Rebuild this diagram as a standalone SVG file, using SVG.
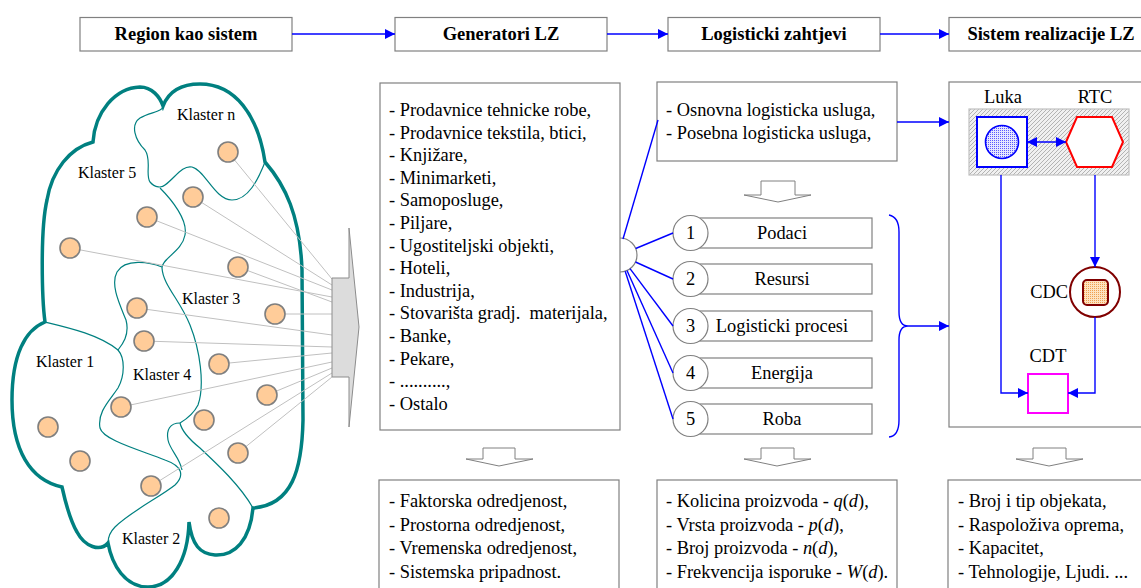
<svg xmlns="http://www.w3.org/2000/svg" width="1141" height="588" viewBox="0 0 1141 588">
  <style>
    .box { fill: #fff; stroke: #808080; stroke-width: 1.2; }
    .hdr { font-family: "Liberation Serif", "Times New Roman", serif; font-weight: bold; font-size: 18.5px; fill: #000; text-anchor: middle; }
    .txt { font-family: "Liberation Serif", "Times New Roman", serif; font-size: 18.4px; fill: #000; white-space: pre; }
    .lbl { font-family: "Liberation Serif", "Times New Roman", serif; font-size: 16px; fill: #000; }
    .mid { text-anchor: middle; }
    .end { text-anchor: end; }
    .flow { fill: none; stroke: #0000ff; stroke-width: 1.4; }
    .outline { fill: #fff; stroke: #008080; stroke-width: 3.5; stroke-linejoin: miter; }
    .border { fill: none; stroke: #008080; stroke-width: 1.2; }
    .ray { stroke: #c0c0c0; stroke-width: 1; }
    .dot { fill: #ffcc99; stroke: #7f7f7f; stroke-width: 1.6; }
    .hollow { fill: #fff; stroke: #808080; stroke-width: 1; }
    .num { fill: #fff; stroke: #808080; stroke-width: 1.2; }
    .it { font-style: italic; }
  </style>
  <defs>
    <marker id="arr" viewBox="0 0 10 10" refX="10" refY="5" markerWidth="10" markerHeight="10" markerUnits="userSpaceOnUse" orient="auto">
      <path d="M0,0 L10,5 L0,10 Z" fill="#0000ff"/>
    </marker>
    <marker id="arrS" viewBox="0 0 10 10" refX="0" refY="5" markerWidth="10" markerHeight="10" markerUnits="userSpaceOnUse" orient="auto">
      <path d="M10,0 L0,5 L10,10 Z" fill="#0000ff"/>
    </marker>
    <pattern id="hatch" width="4" height="4" patternUnits="userSpaceOnUse">
      <rect width="4" height="4" fill="#f0f0f0"/>
      <path d="M-1,1 L1,-1 M0,4 L4,0 M3,5 L5,3" stroke="#9a9a9a" stroke-width="0.7"/>
    </pattern>
    <pattern id="blueDots" width="2" height="2" patternUnits="userSpaceOnUse">
      <rect width="2" height="2" fill="#e6e6ff"/>
      <rect width="1" height="1" fill="#5a5aff"/>
    </pattern>
    <pattern id="orangeDots" width="2" height="2" patternUnits="userSpaceOnUse">
      <rect width="2" height="2" fill="#fde3c0"/>
      <rect width="1" height="1" fill="#f0a050"/>
    </pattern>
  </defs>

  <!-- header row -->
  <g id="hdr-region">
    <rect class="box" x="80" y="17.5" width="212" height="33.5"/>
    <text class="hdr" x="186" y="40">Region kao sistem</text>
  </g>
  <g id="hdr-generatori">
    <rect class="box" x="395" y="17.5" width="212" height="33.5"/>
    <text class="hdr" x="501" y="40">Generatori LZ</text>
  </g>
  <g id="hdr-zahtjevi">
    <rect class="box" x="668" y="17.5" width="212" height="33.5"/>
    <text class="hdr" x="774" y="40">Logisticki zahtjevi</text>
  </g>
  <g id="hdr-sistem">
    <rect class="box" x="949" y="17.5" width="212" height="33.5"/>
    <text class="hdr" x="1051" y="40">Sistem realizacije LZ</text>
  </g>

  <!-- region cloud with clusters -->
  <g id="region">
    <path class="outline" d="M93,142 C95,112 115,88 140,87 C152,87 160,97 163,106
      C170,88 185,84 200,84 C235,84 258,115 265,162
      C285,185 300,215 302,270 L303,420 C302,470 292,505 253,508
      C250,540 235,556 215,555 C200,554 192,545 189,522
      C188,560 172,587 148,587 C125,587 112,565 108,543
      C100,552 85,547 77,532 C70,520 66,505 62,487
      C30,480 12,450 12,400 C12,355 25,330 45,322
      C42,300 40,230 47,200 C52,170 70,148 93,142 Z"/>
    <path class="border" d="M163,106 C163,112 150,112 140,118 C130,125 135,140 145,150 C152,160 145,175 150,182 C155,188 162,188 165,185 C175,178 182,165 192,167 C205,170 215,200 232,200 C248,200 258,180 265,162"/>
    <path class="border" d="M160,188 C172,200 188,220 185,235 C182,252 162,258 162,268 C163,285 180,300 190,325 C200,350 205,385 198,405 C193,415 185,420 180,423"/>
    <path class="border" d="M180,423 C170,423 166,430 168,440 C170,450 180,458 182,470"/>
    <path class="border" d="M180,423 C182,432 190,440 200,448 C215,462 240,485 253,508"/>
    <path class="border" d="M162,267 C150,262 125,258 117,272 C110,285 120,305 126,320 C130,335 122,345 118,350 C125,358 125,375 118,388 C110,400 97,412 100,428 C103,440 140,450 165,460 C182,466 185,475 175,485 C160,497 130,512 115,527 C110,532 108,538 108,543"/>
    <path class="border" d="M45,322 C70,328 100,335 118,350"/>

    <text class="lbl" x="177" y="120">Klaster n</text>
    <text class="lbl" x="78" y="178">Klaster 5</text>
    <text class="lbl" x="182" y="304">Klaster 3</text>
    <text class="lbl" x="36" y="367">Klaster 1</text>
    <text class="lbl" x="133" y="380">Klaster 4</text>
    <text class="lbl" x="122" y="544">Klaster 2</text>
  </g>

  <!-- rays from generators to the collector -->
  <g id="rays">
    <line class="ray" x1="228" y1="152" x2="332" y2="279"/>
    <line class="ray" x1="193" y1="197" x2="332" y2="285"/>
    <line class="ray" x1="147" y1="217" x2="332" y2="290"/>
    <line class="ray" x1="70" y1="248" x2="332" y2="297"/>
    <line class="ray" x1="238" y1="267" x2="332" y2="302"/>
    <line class="ray" x1="275" y1="314" x2="332" y2="314"/>
    <line class="ray" x1="137" y1="308" x2="332" y2="335"/>
    <line class="ray" x1="144" y1="341" x2="332" y2="347"/>
    <line class="ray" x1="219" y1="364" x2="332" y2="353"/>
    <line class="ray" x1="121" y1="407" x2="332" y2="362"/>
    <line class="ray" x1="267" y1="395" x2="332" y2="368"/>
    <line class="ray" x1="151" y1="486" x2="332" y2="373"/>
    <line class="ray" x1="238" y1="453" x2="332" y2="377"/>
  </g>

  <g id="generators">
    <circle class="dot" cx="228" cy="152" r="10"/>
    <circle class="dot" cx="193" cy="197" r="10"/>
    <circle class="dot" cx="147" cy="217" r="10"/>
    <circle class="dot" cx="70" cy="248" r="10"/>
    <circle class="dot" cx="238" cy="267" r="10"/>
    <circle class="dot" cx="275" cy="314" r="10"/>
    <circle class="dot" cx="137" cy="308" r="10"/>
    <circle class="dot" cx="144" cy="341" r="10"/>
    <circle class="dot" cx="219" cy="364" r="10"/>
    <circle class="dot" cx="121" cy="407" r="10"/>
    <circle class="dot" cx="267" cy="395" r="10"/>
    <circle class="dot" cx="204" cy="420" r="10"/>
    <circle class="dot" cx="48" cy="427" r="10"/>
    <circle class="dot" cx="238" cy="453" r="10"/>
    <circle class="dot" cx="80" cy="461" r="10"/>
    <circle class="dot" cx="151" cy="486" r="10"/>
    <circle class="dot" cx="219" cy="518" r="10"/>
  </g>

  <!-- collector block arrow -->
  <g id="collector">
    <polygon points="332,278 349,278 349,228 359,327 349,427 349,377 332,377" fill="#dcdcdc" stroke="#8c8c8c" stroke-width="1"/>
  </g>

  <!-- generators list -->
  <g id="generatori-list">
    <path d="M620,238 A17,17 0 0 1 620,272" fill="#fff" stroke="#808080" stroke-width="1.2"/>
    <rect class="box" x="380" y="83" width="240" height="347"/>
    <text class="txt" x="389" y="116">- Prodavnice tehnicke robe,</text>
    <text class="txt" x="389" y="138.6">- Prodavnice tekstila, btici,</text>
    <text class="txt" x="389" y="161.2">- Knjižare,</text>
    <text class="txt" x="389" y="183.8">- Minimarketi,</text>
    <text class="txt" x="389" y="206.4">- Samoposluge,</text>
    <text class="txt" x="389" y="229">- Piljare,</text>
    <text class="txt" x="389" y="251.6">- Ugostiteljski objekti,</text>
    <text class="txt" x="389" y="274.2">- Hoteli,</text>
    <text class="txt" x="389" y="296.8">- Industrija,</text>
    <text class="txt" x="389" y="319.4" xml:space="preserve">- Stovarišta gradj.  materijala,</text>
    <text class="txt" x="389" y="342">- Banke,</text>
    <text class="txt" x="389" y="364.6">- Pekare,</text>
    <text class="txt" x="389" y="387.2">- ..........,</text>
    <text class="txt" x="389" y="409.8">- Ostalo</text>
  </g>

  <g id="usluge">
    <rect class="box" x="657" y="82" width="240" height="79"/>
    <text class="txt" x="666" y="116">- Osnovna logisticka usluga,</text>
    <text class="txt" x="666" y="139">- Posebna logisticka usluga,</text>
  </g>

  <!-- hollow down arrows -->
  <g id="down-arrows">
    <polygon class="hollow" points="761,181 795,181 795,195 811,195 778,202 744,195 761,195"/>
    <polygon class="hollow" points="483,448 515,448 515,459 533,459 499,466 466,459 483,459"/>
    <polygon class="hollow" points="761,448 794,448 794,459 811,459 777,466 744,459 761,459"/>
    <polygon class="hollow" points="1033,448 1066,448 1066,459 1083,459 1049,466 1016,459 1033,459"/>
  </g>

  <!-- numbered requirement rows -->
  <g id="row-1">
    <rect class="box" x="700" y="218" width="172" height="30"/>
    <circle class="num" cx="690.5" cy="233" r="17.5"/>
    <text class="txt mid" x="690.5" y="239">1</text>
    <text class="txt mid" x="782" y="239">Podaci</text>
  </g>
  <g id="row-2">
    <rect class="box" x="700" y="264" width="172" height="30"/>
    <circle class="num" cx="690.5" cy="279" r="17.5"/>
    <text class="txt mid" x="690.5" y="285">2</text>
    <text class="txt mid" x="782" y="285">Resursi</text>
  </g>
  <g id="row-3">
    <rect class="box" x="700" y="311" width="172" height="30"/>
    <circle class="num" cx="690.5" cy="326" r="17.5"/>
    <text class="txt mid" x="690.5" y="332">3</text>
    <text class="txt mid" x="782" y="332">Logisticki procesi</text>
  </g>
  <g id="row-4">
    <rect class="box" x="700" y="358" width="172" height="30"/>
    <circle class="num" cx="690.5" cy="373" r="17.5"/>
    <text class="txt mid" x="690.5" y="379">4</text>
    <text class="txt mid" x="782" y="379">Energija</text>
  </g>
  <g id="row-5">
    <rect class="box" x="700" y="404" width="172" height="30"/>
    <circle class="num" cx="690.5" cy="419" r="17.5"/>
    <text class="txt mid" x="690.5" y="425">5</text>
    <text class="txt mid" x="782" y="425">Roba</text>
  </g>

  <!-- realization system -->
  <g id="sistem">
    <rect class="box" x="949" y="82" width="210" height="345"/>
    <text class="txt mid" x="1003" y="103">Luka</text>
    <text class="txt mid" x="1095" y="103">RTC</text>
    <rect x="969" y="109" width="160" height="66" fill="url(#hatch)" stroke="#c0c0c0" stroke-width="1.2"/>
  </g>
  <g id="luka">
    <rect x="977" y="117" width="50" height="50" fill="#fff" stroke="#0000ff" stroke-width="2"/>
    <circle cx="1002" cy="142" r="16.5" fill="url(#blueDots)" stroke="#0000ff" stroke-width="1.6"/>
  </g>
  <g id="rtc">
    <polygon points="1066,142 1077,117 1112,117 1123,142 1112,167 1077,167" fill="#fff" stroke="#ff0000" stroke-width="2"/>
  </g>
  <g id="cdc">
    <circle cx="1095" cy="292" r="25" fill="#fff" stroke="#800000" stroke-width="2"/>
    <rect x="1083" y="280" width="25" height="25" rx="4" fill="url(#orangeDots)" stroke="#800000" stroke-width="2"/>
    <text class="txt end" x="1068" y="298">CDC</text>
  </g>
  <g id="cdt">
    <rect x="1028" y="374" width="40" height="39" fill="#fff" stroke="#ff00ff" stroke-width="2"/>
    <text class="txt mid" x="1048" y="362">CDT</text>
  </g>

  <!-- bottom detail boxes -->
  <g id="odredjenost">
    <rect class="box" x="379" y="480" width="240" height="120"/>
    <text class="txt" x="389" y="507">- Faktorska odredjenost,</text>
    <text class="txt" x="389" y="530.5">- Prostorna odredjenost,</text>
    <text class="txt" x="389" y="554">- Vremenska odredjenost,</text>
    <text class="txt" x="389" y="577.5">- Sistemska pripadnost.</text>
  </g>
  <g id="proizvodi">
    <rect class="box" x="657" y="480" width="240" height="120"/>
    <text class="txt" x="666" y="507">- Kolicina proizvoda - <tspan class="it">q</tspan>(<tspan class="it">d</tspan>),</text>
    <text class="txt" x="666" y="530.5">- Vrsta proizvoda - <tspan class="it">p</tspan>(<tspan class="it">d</tspan>),</text>
    <text class="txt" x="666" y="554">- Broj proizvoda - <tspan class="it">n</tspan>(<tspan class="it">d</tspan>),</text>
    <text class="txt" x="666" y="577.5">- Frekvencija isporuke - <tspan class="it">W</tspan>(<tspan class="it">d</tspan>).</text>
  </g>
  <g id="resursi">
    <rect class="box" x="948" y="480" width="210" height="120"/>
    <text class="txt" x="958" y="507">- Broj i tip objekata,</text>
    <text class="txt" x="958" y="530.5">- Raspoloživa oprema,</text>
    <text class="txt" x="958" y="554">- Kapacitet,</text>
    <text class="txt" x="958" y="577.5">- Tehnologije, Ljudi. ...</text>
  </g>

  <!-- connectors, drawn above the nodes -->
  <g id="connectors">
    <line class="flow" x1="292" y1="34" x2="395" y2="34" marker-end="url(#arr)"/>
    <line class="flow" x1="607" y1="34" x2="668" y2="34" marker-end="url(#arr)"/>
    <line class="flow" x1="880" y1="34" x2="949" y2="34" marker-end="url(#arr)"/>

    <line class="flow" x1="623" y1="239" x2="658" y2="120"/>
    <line class="flow" x1="635.7" y1="248.5" x2="673" y2="233"/>
    <line class="flow" x1="635.5" y1="262" x2="673" y2="279"/>
    <line class="flow" x1="630" y1="268.6" x2="673" y2="326"/>
    <line class="flow" x1="627" y1="270.5" x2="673" y2="373"/>
    <line class="flow" x1="625.2" y1="271.2" x2="673" y2="419"/>

    <line class="flow" x1="897" y1="122" x2="949" y2="122" marker-end="url(#arr)"/>
    <path class="flow" d="M889,215 Q899,217 899,232 L899,312 Q899,326 908,326 Q899,326 899,340 L899,420 Q899,436 889,437"/>
    <line class="flow" x1="908" y1="326" x2="949" y2="326" marker-end="url(#arr)"/>

    <line class="flow" x1="1027" y1="142" x2="1066" y2="142" marker-start="url(#arrS)" marker-end="url(#arr)"/>
    <line class="flow" x1="1095" y1="175" x2="1095" y2="267" marker-end="url(#arr)"/>
    <path class="flow" d="M1001,175 V393 H1028" marker-end="url(#arr)"/>
    <path class="flow" d="M1095,317 V393 H1068" marker-end="url(#arr)"/>
  </g>
</svg>
